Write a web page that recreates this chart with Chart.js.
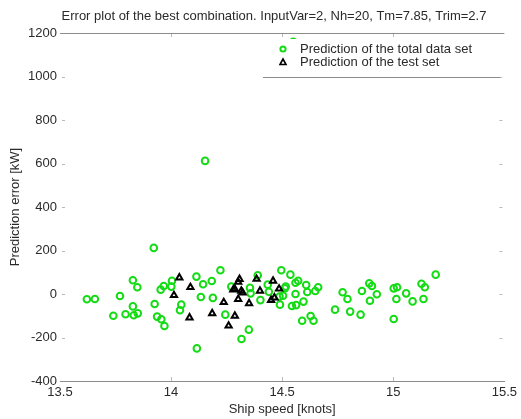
<!DOCTYPE html>
<html>
<head>
<meta charset="utf-8">
<script src="https://cdn.jsdelivr.net/npm/chart.js@4"></script>
<style>
  html, body { margin: 0; padding: 0; background: #fff; }
  #wrap { width: 521px; height: 419px; }
</style>
</head>
<body>
<div id="wrap"><canvas id="error_chart" width="521" height="419"></canvas></div>
<script>
const chartTitle = "Error plot of the best combination. InputVar=2, Nh=20, Tm=7.85, Trim=2.7";
const xTicks = [13.5, 14, 14.5, 15, 15.5];
const yTicks = [-400, -200, 0, 200, 400, 600, 800, 1000, 1200];

// Whole data set: ship speed [knots] and prediction error [kW]
const totalSpeed = [
  13.621, 13.657, 13.74, 13.77, 13.795, 13.828, 13.828, 13.832, 13.848, 13.85,
  13.922, 13.926, 13.937, 13.953, 13.956, 13.967, 13.97, 14.001, 14.004, 14.04,
  14.046, 14.114, 14.116, 14.134, 14.144, 14.153, 14.183, 14.188, 14.222, 14.244,
  14.271, 14.317, 14.35, 14.355, 14.358, 14.39, 14.402, 14.435, 14.44, 14.488,
  14.49, 14.496, 14.504, 14.512, 14.516, 14.537, 14.544, 14.55, 14.56, 14.56,
  14.563, 14.572, 14.59, 14.596, 14.608, 14.613, 14.628, 14.641, 14.649, 14.662,
  14.738, 14.772, 14.794, 14.806, 14.853, 14.859, 14.892, 14.895, 14.904, 14.926,
  15.002, 15.002, 15.014, 15.017, 15.058, 15.087, 15.127, 15.136, 15.142, 15.191
];
const totalError = [
  -24, -23, -100, -9, -93, 63, -57, -98, 31, -89,
  212, -46, -104, 20, -116, 37, -147, 34, 61, -75,
  -49, 80, -250, -14, 45, 612, 60, -18, 109, -95,
  34, -207, -164, 28, 3, 86, -28, 43, 10, -12,
  -49, 109, -8, 26, 34, 89, -55, 1160, 52, 0,
  -51, 61, -123, -35, 41, 9, -101, -123, 14, 31,
  -72, 8, -23, -81, -95, 14, 49, -31, 37, -1,
  26, -115, -23, 31, 3, -34, 47, -23, 31, 89
];

// Test set
const testSpeed = [
  14.013, 14.037, 14.083, 14.087, 14.185, 14.237, 14.259, 14.28, 14.287, 14.287,
  14.302, 14.302, 14.308, 14.316, 14.322, 14.351, 14.385, 14.40, 14.45, 14.459,
  14.465, 14.486
];
const testError = [
  -6, 75, -109, 31, -89, -38, -146, 20, 22, -101,
  -24, 55, 68, 14, 6, -43, 69, 14, -28, 60,
  -17, 24
];

const totalLabel = "Prediction of the total data set";
const testLabel = "Prediction of the test set";

const GREEN = "#14dc14";
const AXIS_GRAY = "#8c8c8c";
const TEXT = "#2a2a2a";
const FONT = "'Liberation Sans', Arial, sans-serif";

function toPoints(xs, ys) {
  return xs.map((x, i) => ({ x, y: ys[i] }));
}

// Title, top edge, inward ticks and the white legend box
const framePlugin = {
  id: "frame",
  afterDatasetsDraw(chart) {
    const { ctx, chartArea: a, scales } = chart;
    ctx.save();
    ctx.strokeStyle = AXIS_GRAY;
    ctx.lineWidth = 1;

    ctx.beginPath();
    ctx.moveTo(a.left, a.top + 0.5);
    ctx.lineTo(a.right, a.top + 0.5);
    ctx.stroke();

    ctx.beginPath();
    xTicks.slice(1, -1).forEach(v => {
      const px = Math.round(scales.x.getPixelForValue(v)) + 0.5;
      ctx.moveTo(px, a.top);
      ctx.lineTo(px, a.top + 4);
      ctx.moveTo(px, a.bottom);
      ctx.lineTo(px, a.bottom - 4);
    });
    yTicks.slice(1, -1).forEach(v => {
      const py = Math.round(scales.y.getPixelForValue(v)) + 0.5;
      ctx.moveTo(a.left + 2, py);
      ctx.lineTo(a.left + 5, py);
      ctx.moveTo(a.right - 5, py);
      ctx.lineTo(a.right - 2, py);
    });
    ctx.strokeStyle = "rgba(140,140,140,0.6)";
    ctx.stroke();

    // legend
    const lx = a.left + 203, lw = 237, ly = a.top + 6, lh = 38;
    ctx.fillStyle = "#fff";
    ctx.fillRect(lx, ly, lw, lh);
    ctx.strokeStyle = AXIS_GRAY;
    ctx.beginPath();
    ctx.moveTo(lx, ly + lh + 0.5);
    ctx.lineTo(lx + lw, ly + lh + 0.5);
    ctx.stroke();

    ctx.lineWidth = 2;
    ctx.strokeStyle = GREEN;
    ctx.beginPath();
    ctx.arc(lx + 20, ly + 10, 2.6, 0, Math.PI * 2);
    ctx.stroke();
    ctx.strokeStyle = "#000";
    ctx.lineWidth = 1.6;
    ctx.beginPath();
    ctx.moveTo(lx + 20, ly + 20);
    ctx.lineTo(lx + 23, ly + 25.5);
    ctx.lineTo(lx + 17, ly + 25.5);
    ctx.closePath();
    ctx.stroke();

    ctx.fillStyle = TEXT;
    ctx.font = "13px " + FONT;
    ctx.textBaseline = "middle";
    ctx.textAlign = "left";
    ctx.fillText(totalLabel, lx + 37, ly + 10);
    ctx.fillText(testLabel, lx + 37, ly + 23);

    ctx.textAlign = "center";
    ctx.fillText(chartTitle, 274, 16);
    ctx.restore();
  }
};

const context = document.getElementById("error_chart").getContext("2d");

new Chart(context, {
  type: "scatter",
  data: {
    datasets: [
      {
        label: totalLabel,
        data: toPoints(totalSpeed, totalError),
        pointStyle: "circle",
        pointRadius: 3.3,
        pointBorderWidth: 2,
        borderColor: GREEN,
        backgroundColor: "rgba(0,0,0,0)",
        order: 2
      },
      {
        label: testLabel,
        data: toPoints(testSpeed, testError),
        pointStyle: "triangle",
        pointRadius: 3.6,
        pointBorderWidth: 2,
        borderColor: "#000",
        backgroundColor: "rgba(0,0,0,0)",
        order: 1
      }
    ]
  },
  options: {
    responsive: false,
    animation: false,
    layout: { padding: { top: 33, right: 14, left: 0, bottom: 0 } },
    plugins: {
      legend: { display: false },
      title: { display: false },
      tooltip: { enabled: false }
    },
    scales: {
      x: {
        type: "linear",
        min: 13.5,
        max: 15.5,
        afterBuildTicks: s => { s.ticks = xTicks.map(value => ({ value })); },
        afterFit: s => { s.height = 38; },
        grid: { display: false, drawTicks: false },
        border: { display: true, color: AXIS_GRAY },
        ticks: {
          padding: 4,
          color: TEXT,
          font: { family: FONT, size: 13 },
          maxRotation: 0,
          callback: v => String(v)
        },
        title: {
          display: true,
          text: "Ship speed [knots]",
          color: TEXT,
          font: { family: FONT, size: 13 },
          padding: { top: 0, bottom: 2 }
        }
      },
      y: {
        type: "linear",
        min: -400,
        max: 1200,
        afterBuildTicks: s => { s.ticks = yTicks.map(value => ({ value })); },
        afterFit: s => { s.width = 60; },
        grid: { display: false, drawTicks: false },
        border: { display: false },
        ticks: {
          padding: 3,
          color: TEXT,
          font: { family: FONT, size: 13 },
          callback: v => String(v)
        },
        title: {
          display: true,
          text: "Prediction error [kW]",
          color: TEXT,
          font: { family: FONT, size: 13 },
          padding: { top: 8, bottom: 0 }
        }
      }
    }
  },
  plugins: [framePlugin]
});
</script>
</body>
</html>
